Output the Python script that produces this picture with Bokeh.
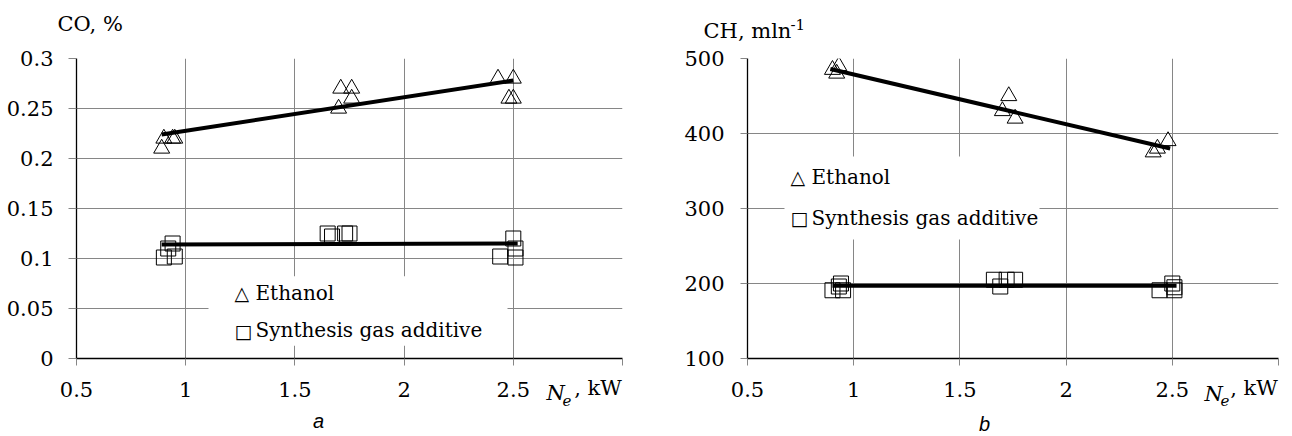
from bokeh.plotting import figure
from bokeh.models import (Range1d, FixedTicker, Label, BoxAnnotation, CustomJSTickFormatter,
                          LinearAxis)
from bokeh.layouts import row
from bokeh.embed import file_html
from bokeh.resources import INLINE

# ---------------- data ----------------
# panel a : CO, %
co_ethanol_x = [0.89, 0.90, 0.94, 0.95, 1.70, 1.71, 1.76, 1.76, 2.43, 2.50, 2.48, 2.50]
co_ethanol_y = [0.21, 0.22, 0.22, 0.22, 0.25, 0.27, 0.27, 0.26, 0.28, 0.28, 0.26, 0.26]
co_syngas_x = [0.94, 0.92, 0.90, 0.95, 1.65, 1.67, 1.73, 1.75, 2.50, 2.44, 2.51, 2.51]
co_syngas_y = [0.115, 0.110, 0.101, 0.102, 0.125, 0.122, 0.125, 0.125, 0.120, 0.102, 0.110, 0.101]
co_ethanol_trend_x = [0.89, 2.50]
co_ethanol_trend_y = [0.224, 0.278]
co_syngas_trend_x = [0.89, 2.52]
co_syngas_trend_y = [0.114, 0.115]

# panel b : CH, mln-1
ch_ethanol_x = [0.90, 0.93, 0.92, 1.73, 1.70, 1.76, 2.41, 2.43, 2.48]
ch_ethanol_y = [485, 490, 480, 450, 430, 420, 375, 380, 390]
ch_syngas_x = [0.94, 0.90, 0.93, 0.95, 1.66, 1.69, 1.72, 1.76, 2.50, 2.44, 2.51, 2.51]
ch_syngas_y = [200, 191, 196, 191, 205, 196, 205, 205, 200, 191, 195, 191]
ch_ethanol_trend_x = [0.89, 2.49]
ch_ethanol_trend_y = [486, 380]
ch_syngas_trend_x = [0.90, 2.52]
ch_syngas_trend_y = [197, 197]

x_ticks = [0.5, 1.0, 1.5, 2.0, 2.5, 3.0]
x_tick_labels = ["0.5", "1", "1.5", "2", "2.5", ""]
co_ticks = [0.0, 0.05, 0.1, 0.15, 0.2, 0.25, 0.3]
co_tick_labels = ["0", "0.05", "0.1", "0.15", "0.2", "0.25", "0.3"]
ch_ticks = [100, 200, 300, 400, 500]
ch_tick_labels = ["100", "200", "300", "400", "500"]
series_names = ["Ethanol", "Synthesis gas additive"]
x_unit = ", kW"

SERIF = "DejaVu Serif"
SANS_IT = "Liberation Sans, Arial, sans-serif"
FS = 21          # main text size, px
GRID = "#868686"
BASE_SHIFT = 0.32   # em; rendered alphabetic baseline sits lower than requested
UNIT_HALF_W = 24.4  # half the width of ", kW" at FS


def fmt(tvals, tlabels):
    return CustomJSTickFormatter(
        args=dict(tvals=list(tvals), tlabels=list(tlabels)),
        code="const i = tvals.findIndex(t => Math.abs(t - tick) < 1e-9); return i >= 0 ? tlabels[i] : '';")


class Geo:
    def __init__(self, FL, FR, FT, FB, x0, x1, y0, y1):
        self.FL, self.FR, self.FT, self.FB = FL, FR, FT, FB
        self.x0, self.x1, self.y0, self.y1 = x0, x1, y0, y1

    def dx(self, sx):
        return self.x0 + (sx - self.FL) / (self.FR - self.FL) * (self.x1 - self.x0)

    def dy(self, sy):
        return self.y0 + (self.FB - sy) / (self.FB - self.FT) * (self.y1 - self.y0)


def text(p, g, s, sx, sy, size, align="left", style="normal", font=SERIF, place=None):
    lab = Label(x=g.dx(sx), y=g.dy(sy - BASE_SHIFT * size), text=s, text_font=font,
                text_font_size=f"{size}px", text_align=align, text_baseline="alphabetic",
                text_font_style=style, text_color="black")
    if place is None:
        p.add_layout(lab)
    else:
        p.add_layout(lab, place)


def make_panel(g, width, height, borders, yticks, ylabels, tick_out_y, standoff_y,
               eth_x, eth_y, syn_x, syn_y, et_x, et_y, st_x, st_y):
    bl, br, bt, bb = borders
    p = figure(width=width, height=height, x_range=Range1d(g.x0, g.x1), y_range=Range1d(g.y0, g.y1),
               min_border_left=bl, min_border_right=br, min_border_top=bt, min_border_bottom=bb,
               output_backend="svg", toolbar_location=None, background_fill_color="white",
               border_fill_color="white", outline_line_color=None)
    p.xaxis.ticker = FixedTicker(ticks=x_ticks)
    p.xaxis.formatter = fmt(x_ticks, x_tick_labels)
    p.yaxis.ticker = FixedTicker(ticks=yticks)
    p.yaxis.formatter = fmt(yticks, ylabels)
    for ax in (p.xaxis[0], p.yaxis[0]):
        ax.axis_line_color = "black"
        ax.axis_line_width = 1.3
        ax.major_tick_line_color = GRID
        ax.major_tick_in = 0
        ax.minor_tick_line_color = None
        ax.major_label_text_font = SERIF
        ax.major_label_text_font_size = f"{FS}px"
        ax.major_label_text_color = "black"
    p.xaxis.major_tick_out = 7
    p.xaxis.major_label_standoff = 16
    p.yaxis.major_tick_out = tick_out_y
    p.yaxis.major_label_standoff = standoff_y

    # unit label ", kW" on the tick-label row, ending at the right edge of the frame
    ux = g.dx(g.FR - UNIT_HALF_W)
    ua = LinearAxis(ticker=FixedTicker(ticks=[ux]), formatter=fmt([ux], [x_unit]))
    ua.axis_line_color = None
    ua.major_tick_line_color = None
    ua.minor_tick_line_color = None
    ua.major_tick_out = 0
    ua.major_tick_in = 0
    ua.major_label_standoff = -24
    ua.major_label_text_font = SERIF
    ua.major_label_text_font_size = f"{FS}px"
    ua.major_label_text_color = "black"
    p.add_layout(ua, "below")

    p.grid.grid_line_color = GRID
    p.grid.grid_line_width = 1

    p.scatter(eth_x, eth_y, marker="triangle", size=16, fill_color=None, line_color="black", line_width=1)
    p.scatter(syn_x, syn_y, marker="square", size=15, fill_color=None, line_color="black", line_width=1)
    p.line(et_x, et_y, line_color="black", line_width=4)
    p.line(st_x, st_y, line_color="black", line_width=4)
    return p


# ---------------- panel a ----------------
ga = Geo(76, 622, 57, 360, 0.5, 3.0, 0.0, 0.3)
pa = make_panel(ga, 650, 434, (76, 28, 57, 74), co_ticks, co_tick_labels, 8, 15,
                co_ethanol_x, co_ethanol_y, co_syngas_x, co_syngas_y,
                co_ethanol_trend_x, co_ethanol_trend_y, co_syngas_trend_x, co_syngas_trend_y)
pa.add_layout(BoxAnnotation(left=ga.dx(208), right=ga.dx(507), top=ga.dy(277), bottom=ga.dy(347),
                            fill_color="white", fill_alpha=1, line_color=None, level="underlay"))
text(pa, ga, "\u25b3", 234, 300, 19, font="DejaVu Sans")
text(pa, ga, series_names[0], 255, 300, 20)
text(pa, ga, "\u25a1", 234, 338, 19, font="DejaVu Sans")
text(pa, ga, series_names[1], 255, 338, 20)
text(pa, ga, "CO, %", 57, 29, FS, place="above")
text(pa, ga, "N", 546, 402, FS, style="italic", place="right")
text(pa, ga, "e", 562, 407, 15, style="italic", place="right")
text(pa, ga, "a", 318, 430, 20, align="center", style="italic", font=SANS_IT, place="below")

# ---------------- panel b ----------------
gb = Geo(747, 1278, 58, 358, 0.5, 3.0, 100, 500)
pb = make_panel(gb, 641, 434, (97, 13, 58, 76), ch_ticks, ch_tick_labels, 7, 16,
                ch_ethanol_x, ch_ethanol_y, ch_syngas_x, ch_syngas_y,
                ch_ethanol_trend_x, ch_ethanol_trend_y, ch_syngas_trend_x, ch_syngas_trend_y)
pb.add_layout(BoxAnnotation(left=gb.dx(784), right=gb.dx(1039), top=gb.dy(156), bottom=gb.dy(239),
                            fill_color="white", fill_alpha=1, line_color=None, level="underlay"))
text(pb, gb, "\u25b3", 790, 183, 19, font="DejaVu Sans")
text(pb, gb, series_names[0], 811, 183, 20)
text(pb, gb, "\u25a1", 790, 224, 19, font="DejaVu Sans")
text(pb, gb, series_names[1], 811, 224, 20)
text(pb, gb, "CH, mln", 703, 37, FS, place="above")
text(pb, gb, "-1", 790, 29, 15, place="above")
text(pb, gb, "N", 1204, 400, FS, style="italic", place="left")
text(pb, gb, "e", 1220, 405, 15, style="italic", place="left")
text(pb, gb, "b", 984, 430, 20, align="center", style="italic", font=SANS_IT, place="below")

layout = row(pa, pb, spacing=0)
open("out.html", "w").write(file_html(layout, INLINE))
